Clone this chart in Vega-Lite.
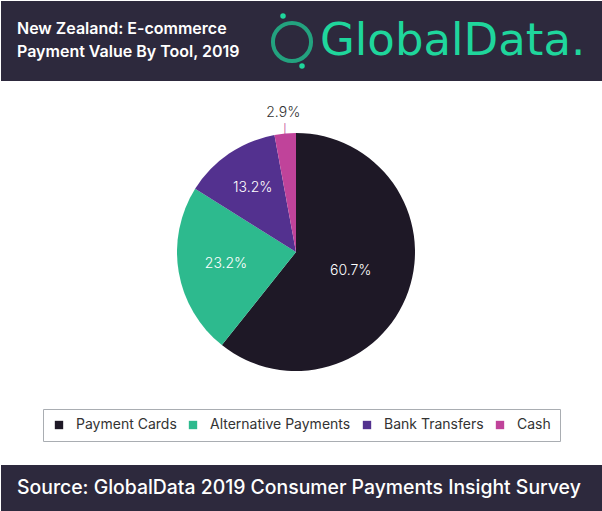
{
  "$schema": "https://vega.github.io/schema/vega-lite/v6.json",
  "background": "white",
  "padding": 0,
  "autosize": {"type": "pad"},
  "config": {"view": {"stroke": null}, "concat": {"spacing": 0}, "font": "Inter"},
  "spacing": 0,
  "vconcat": [
    {
      "width": 602,
      "height": 80,
      "view": {"fill": "#2d293d", "stroke": null},
      "layer": [
        {
          "data": {"values": [{"line": "New Zealand: E-commerce", "n": 1}, {"line": "Payment Value By Tool, 2019", "n": 2}]},
          "mark": {"type": "text", "align": "left", "baseline": "alphabetic", "x": 16, "fontSize": 16, "fontWeight": 600, "color": "white", "font": "Inter"},
          "encoding": {
            "text": {"field": "line"},
            "y": {"field": "n", "type": "ordinal", "scale": {"range": [33, 56], "padding": 0}, "axis": null}
          }
        },
        {
          "data": {"values": [{"brand": "GlobalData."}]},
          "mark": {"type": "text", "align": "left", "baseline": "alphabetic", "x": 319, "y": 54, "fontSize": 45, "fontWeight": "normal", "color": "#1fd69c", "font": "DejaVu Sans"},
          "encoding": {"text": {"field": "brand"}}
        },
        {
          "data": {"values": [{"brand": "icon"}]},
          "mark": {"type": "point", "shape": "circle", "filled": false, "x": 291, "y": 41, "size": 1450, "strokeWidth": 4, "color": "#1fd69c"},
          "encoding": {}
        },
        {
          "data": {"values": [{"brand": "icon"}]},
          "mark": {"type": "rule", "x": 284, "y": 24, "x2": 298, "y2": 58, "strokeWidth": 4, "color": "#1fd69c", "strokeCap": "round"},
          "encoding": {}
        },
        {
          "data": {"values": [{"brand": "icon"}]},
          "mark": {"type": "point", "shape": "circle", "filled": true, "x": 282, "y": 15, "size": 30, "color": "#1fd69c", "opacity": 1},
          "encoding": {}
        },
        {
          "data": {"values": [{"brand": "icon"}]},
          "mark": {"type": "point", "shape": "circle", "filled": true, "x": 301, "y": 65, "size": 30, "color": "#1fd69c", "opacity": 1},
          "encoding": {}
        }
      ]
    },
    {
      "width": 602,
      "height": 384,
      "data": {"values": [
        {"tool": "Payment Cards", "value": 60.7, "label": "60.7%"},
        {"tool": "Alternative Payments", "value": 23.2, "label": "23.2%"},
        {"tool": "Bank Transfers", "value": 13.2, "label": "13.2%"},
        {"tool": "Cash", "value": 2.9, "label": "2.9%"}
      ]},
      "encoding": {
        "theta": {"field": "value", "type": "quantitative", "stack": true},
        "order": {"field": "value", "type": "quantitative", "sort": "descending"}
      },
      "layer": [
        {
          "mark": {"type": "arc", "outerRadius": 119, "x": 295, "y": 171},
          "encoding": {
            "color": {
              "field": "tool", "type": "nominal",
              "scale": {"domain": ["Payment Cards", "Alternative Payments", "Bank Transfers", "Cash"], "range": ["#1e1826", "#2dba8e", "#53318f", "#c0439a"]},
              "legend": {
                "orient": "none", "legendX": 42, "legendY": 408, "direction": "horizontal", "title": null,
                "strokeColor": "#a9adb2", "padding": 9, "symbolType": "square", "symbolSize": 70, "symbolStrokeWidth": 0,
                "labelFontSize": 14, "labelFont": "Inter", "labelColor": "#333333", "columnPadding": 9, "labelOffset": 10
              }
            }
          }
        },
        {
          "mark": {"type": "text", "x": 295, "y": 171, "fontSize": 14, "fontWeight": 300, "font": "Inter", "color": "white"},
          "encoding": {
            "text": {"condition": {"test": "datum.tool === 'Payment Cards'", "field": "label"}, "value": ""},
            "radius": {"value": 58}
          }
        },
        {
          "mark": {"type": "text", "x": 295, "y": 171, "fontSize": 14, "fontWeight": 300, "font": "Inter", "color": "white"},
          "encoding": {
            "text": {"condition": {"test": "datum.tool === 'Alternative Payments'", "field": "label"}, "value": ""},
            "radius": {"value": 71}
          }
        },
        {
          "mark": {"type": "text", "x": 295, "y": 171, "fontSize": 14, "fontWeight": 300, "font": "Inter", "color": "white"},
          "encoding": {
            "text": {"condition": {"test": "datum.tool === 'Bank Transfers'", "field": "label"}, "value": ""},
            "radius": {"value": 77}
          }
        },
        {
          "mark": {"type": "text", "x": 295, "y": 171, "fontSize": 14, "fontWeight": 300, "font": "Inter", "color": "#333333"},
          "encoding": {
            "text": {"condition": {"test": "datum.tool === 'Cash'", "field": "label"}, "value": ""},
            "radius": {"value": 140}
          }
        },
        {
          "mark": {"type": "text", "x": 295, "y": 171, "fontSize": 10, "color": "#c0439a"},
          "encoding": {
            "text": {"condition": {"test": "datum.tool === 'Cash'", "value": "|"}, "value": ""},
            "radius": {"value": 123}
          }
        }
      ]
    },
    {
      "width": 602,
      "height": 47,
      "view": {"fill": "#2d293d", "stroke": null},
      "data": {"values": [{"source": "Source: GlobalData 2019 Consumer Payments Insight Survey"}]},
      "mark": {"type": "text", "align": "left", "baseline": "alphabetic", "x": 16, "y": 29, "fontSize": 19.4, "fontWeight": 500, "color": "white", "font": "Inter"},
      "encoding": {"text": {"field": "source"}}
    }
  ]
}
